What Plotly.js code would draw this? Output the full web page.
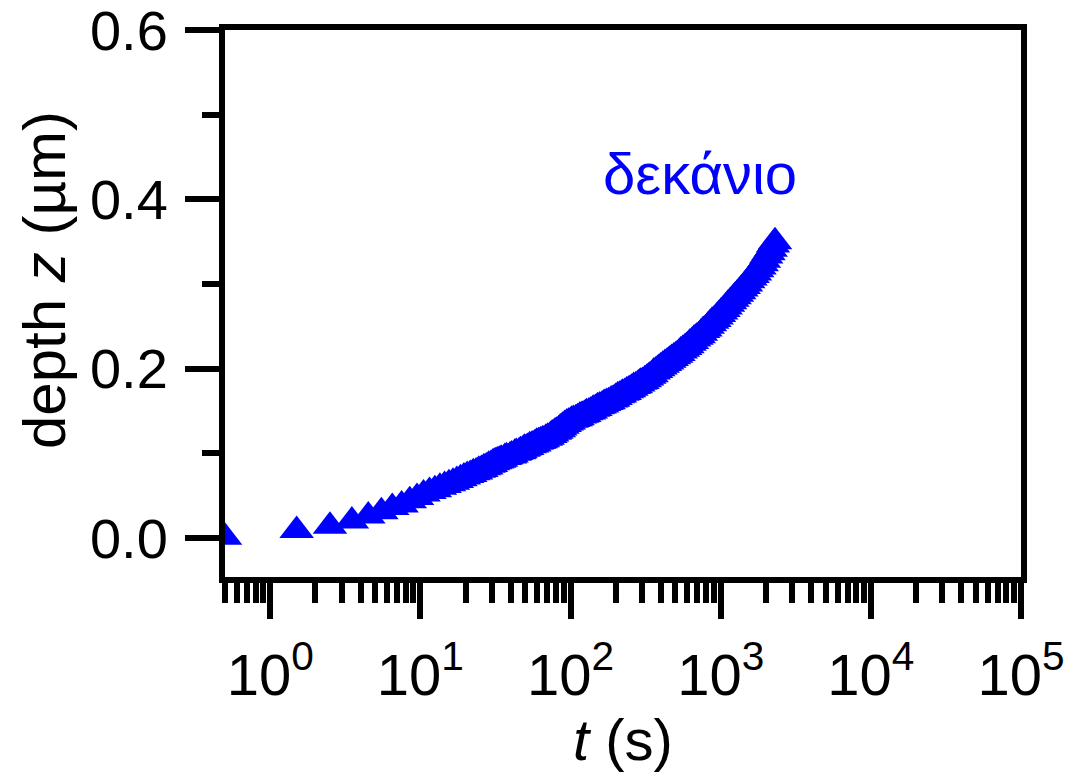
<!DOCTYPE html>
<html>
<head>
<meta charset="utf-8">
<script src="https://cdn.plot.ly/plotly-3.0.1.min.js"></script>
<style>html,body{margin:0;padding:0;background:#fff;}#chart{width:1070px;height:782px;}</style>
</head>
<body>
<div id="chart"></div>
<script>
// time (s)
const tValues = [0.5,1.5,2.5,3.5,4.5,5.5,6.5,7.5,8.5,9.5,
  10.5,11.5,12.5,13.5,14.5,15.5,16.5,17.5,18.5,19.5,20.5,21.5,22.5,23.5,24.5,25.5,26.5,27.5,28.5,29.5,30.5,31.5,32.5,33.5,34.5,36.5,37.5,39.5,40.5,42.5,43.5,45.5,46.5,48.5,49.5,51.5,
  53.5,55.5,57.5,59.5,61.5,63.5,65.5,68.5,70.5,73.5,75.5,78.5,80.5,83.5,85.5,88.5,91.5,94.5,97.5,101.5,104.5,108.5,111.5,115.5,119.5,123.5,127.5,132.5,136.5,141.5,146.5,151.5,156.5,162.5,167.5,173.5,179.5,186.5,192.5,199.5,
  206.5,213.5,221.5,229.5,237.5,245.5,254.5,263.5,272.5,282.5,291.5,301.5,312.5,323.5,334.5,346.5,358.5,371.5,384.5,397.5,411.5,425.5,440.5,455.5,471.5,488.5,505.5,523.5,541.5,560.5,580.5,600.5,621.5,643.5,665.5,689.5,
  713.5,738.5,764.5,791.5,819.5,848.5,877.5,908.5,940.5,973.5,1007.5,1043.5,1079.5,1117.5,1156.5,1197.5,1239.5,1283.5,1328.5,1375.5,1423.5,1473.5,1524.5,1578.5,1633.5,1691.5,1750.5,1812.5,1875.5,1941.5,2009.5,2080.5,2152.5,2227.5,2300.5];
// depth z (µm)
const zValues = [0.001,0.009,0.014,0.020,0.026,0.031,0.036,0.039,0.044,0.048,
  0.052,0.055,0.057,0.060,0.062,0.064,0.066,0.068,0.070,0.072,0.074,0.075,0.077,0.078,0.080,0.081,0.083,0.084,0.086,0.087,0.089,0.090,0.091,0.092,0.093,0.095,0.096,0.097,0.098,0.100,0.101,0.102,0.103,0.105,0.106,0.107,
  0.109,0.110,0.111,0.113,0.114,0.115,0.116,0.118,0.119,0.121,0.123,0.125,0.126,0.128,0.130,0.132,0.134,0.136,0.137,0.139,0.140,0.141,0.142,0.144,0.145,0.146,0.148,0.149,0.150,0.152,0.153,0.155,0.156,0.157,0.159,0.160,0.161,0.163,0.164,0.166,
  0.168,0.169,0.171,0.172,0.174,0.175,0.177,0.179,0.180,0.182,0.184,0.185,0.187,0.189,0.191,0.193,0.196,0.198,0.200,0.202,0.204,0.206,0.208,0.210,0.212,0.214,0.216,0.218,0.221,0.223,0.225,0.227,0.230,0.232,0.235,0.237,
  0.239,0.242,0.245,0.247,0.250,0.253,0.256,0.258,0.261,0.264,0.267,0.270,0.273,0.276,0.279,0.282,0.285,0.288,0.291,0.294,0.297,0.300,0.304,0.307,0.310,0.313,0.317,0.320,0.324,0.328,0.333,0.337,0.341,0.346,0.350];
const seriesLabel = 'δεκάνιο';
const xTickVals = [1,10,100,1000,10000,100000];
const xTickText = ['10<sup>0</sup>','10<sup>1</sup>','10<sup>2</sup>','10<sup>3</sup>','10<sup>4</sup>','10<sup>5</sup>'];
const yTickVals = [0,0.2,0.4,0.6];
const yTickText = ['0.0','0.2','0.4','0.6'];
const yMinorVals = [0.1,0.3,0.5];
const xTitle = '<i>t</i> (s)';
const yTitle = 'depth <i>z</i> (µm)';

const xMinorVals = [];
for (let e = -1; e < 5; e++) {
  for (let m = 2; m <= 9; m++) {
    const v = m * Math.pow(10, e);
    if (v >= 0.5) xMinorVals.push(v);
  }
}

const font = 'Liberation Sans, Arial, sans-serif';
const data = [{
  x: tValues, y: zValues, type: 'scatter', mode: 'markers', name: seriesLabel,
  marker: {symbol: 'triangle-up', size: 30, color: '#0000ff'},
  cliponaxis: true, showlegend: false
}];

const layout = {
  width: 1070, height: 782,
  margin: {l: 225, r: 49, t: 30, b: 205},
  paper_bgcolor: '#fff', plot_bgcolor: '#fff',
  font: {family: font, color: '#000', size: 58},
  showlegend: false,
  xaxis: {
    type: 'log', range: [Math.log10(0.5), 5],
    showgrid: false, zeroline: false,
    showline: true, linewidth: 6, linecolor: '#000', mirror: true,
    ticks: 'outside', ticklen: 36, tickwidth: 6, tickcolor: '#000',
    tickmode: 'array', tickvals: xTickVals, ticktext: xTickText,
    ticklabelstandoff: 6, ticklabeloverflow: 'allow',
    tickfont: {family: font, size: 58, color: '#000'},
    minor: {tickmode: 'array', tickvals: xMinorVals, ticks: 'outside', ticklen: 20, tickwidth: 6, tickcolor: '#000', showgrid: false},
    title: {text: xTitle, font: {family: font, size: 58, color: '#000'}, standoff: 6}
  },
  yaxis: {
    range: [-0.046, 0.6],
    showgrid: false, zeroline: false,
    showline: true, linewidth: 6, linecolor: '#000', mirror: true,
    ticks: 'outside', ticklen: 34, tickwidth: 6, tickcolor: '#000',
    tickmode: 'array', tickvals: yTickVals, ticktext: yTickText,
    ticklabelstandoff: 6, ticklabeloverflow: 'allow',
    tickfont: {family: font, size: 56, color: '#000'},
    minor: {tickmode: 'array', tickvals: yMinorVals, ticks: 'outside', ticklen: 17, tickwidth: 6, tickcolor: '#000', showgrid: false}
  },
  annotations: [{
    x: Math.log10(724), y: 0.43, xref: 'x', yref: 'y',
    text: seriesLabel, showarrow: false,
    font: {family: font, size: 58, color: '#0000ff'}
  }, {
    x: -0.226, y: 0.543, xref: 'paper', yref: 'paper',
    text: yTitle, textangle: -90, showarrow: false,
    xanchor: 'center', yanchor: 'middle',
    font: {family: font, size: 60, color: '#000'}
  }]
};

Plotly.newPlot('chart', data, layout, {displayModeBar: false, staticPlot: true});
</script>
</body>
</html>
